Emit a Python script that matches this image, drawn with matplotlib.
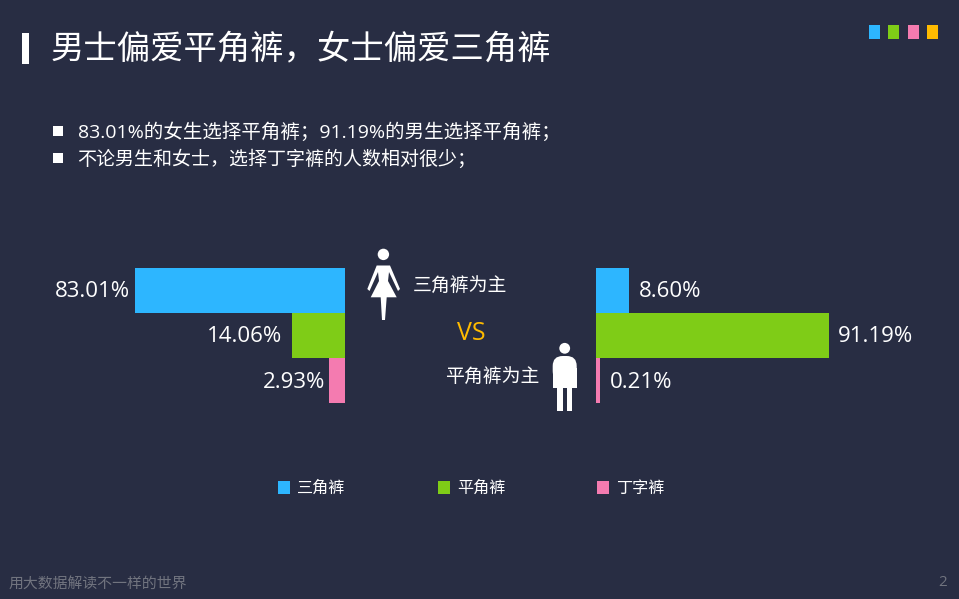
import matplotlib
matplotlib.use("Agg")
import matplotlib.pyplot as plt
import numpy as np
from matplotlib.patches import Rectangle, Polygon, Circle, FancyBboxPatch

plt.rcParams['font.family'] = ['Noto Sans CJK SC', 'DejaVu Sans']
NUM_FONT = ['Open Sans', 'Noto Sans CJK SC']

W, H = 959, 599
BG = '#282D43'
BLUE, GREEN, PINK, YELLOW = '#2DB6FF', '#7FCC17', '#F47BB0', '#FFBB00'

categories = ['三角裤', '平角裤', '丁字裤']
female = [83.01, 14.06, 2.93]
male = [8.60, 91.19, 0.21]
female_labels = ['83.01%', '14.06%', '2.93%']
male_labels = ['8.60%', '91.19%', '0.21%']
colors = [BLUE, GREEN, PINK]

# the reference's bars are not linear in the value: scale anchors (value -> drawn length)
scale_female = ([0, 2.93, 14.06, 83.01, 120], [0, 16, 53, 210, 300])
scale_male = ([0, 0.21, 8.60, 91.19, 130], [0, 4, 33, 233, 300])

title = '男士偏爱平角裤，女士偏爱三角裤'
bullets = ['83.01%的女生选择平角裤；91.19%的男生选择平角裤；',
           '不论男生和女士，选择丁字裤的人数相对很少；']
footer = '用大数据解读不一样的世界'

fig = plt.figure(figsize=(W / 100, H / 100), dpi=100, facecolor=BG)

ov = fig.add_axes([0, 0, 1, 1], zorder=3)
ov.set_xlim(0, W)
ov.set_ylim(H, 0)
ov.axis('off')


def bar_axes(x0, x1, y0, y1, anchors, reverse=False):
    ax = fig.add_axes([x0 / W, 1 - y1 / H, (x1 - x0) / W, (y1 - y0) / H], zorder=2)
    ax.patch.set_alpha(0)
    xs, ys = anchors
    ax.set_xscale('function', functions=(lambda v: np.interp(v, xs, ys),
                                         lambda p: np.interp(p, ys, xs)))
    ax.set_xlim((xs[-1], 0) if reverse else (0, xs[-1]))
    ax.set_ylim(2.5, -0.5)
    ax.axis('off')
    return ax


axL = bar_axes(45, 345, 268, 403, scale_female, reverse=True)
axL.barh(range(3), female, height=1.0, color=colors)

axR = bar_axes(596, 896, 268, 403, scale_male)
axR.barh(range(3), male, height=1.0, color=colors)

for i, (v, t, pad, dy) in enumerate(zip(female, female_labels, [5, 10, 4], [-1, -1, -1.8])):
    axL.annotate(t, (v, i), xytext=(-pad * 0.72, dy), textcoords='offset points',
                 ha='right', va='center', color='white', fontsize=16, family=NUM_FONT)
for i, (v, t, pad, dy) in enumerate(zip(male, male_labels, [10, 9, 10], [-1, -1, -1.8])):
    axR.annotate(t, (v, i), xytext=(pad * 0.72, dy), textcoords='offset points',
                 ha='left', va='center', color='white', fontsize=16, family=NUM_FONT)

# title
ov.add_patch(Rectangle((22, 33), 7, 31, color='white', lw=0))
ov.text(51, 49, title, color='white', fontsize=24, va='center', ha='left')

# top right squares
for x, c in zip([869, 888, 908, 927], [BLUE, GREEN, PINK, YELLOW]):
    ov.add_patch(Rectangle((x, 25), 11, 14, color=c, lw=0))

# bullets
for y, t, fs, tx in zip([131, 158], bullets, [14.0, 13.7], [78, 77.5]):
    ov.add_patch(Rectangle((52.5, y - 5.5), 10.5, 10, color='white', lw=0))
    ov.text(tx, y + 1, t, color='white', fontsize=fs, va='center', ha='left',
            family=NUM_FONT)

# woman icon
ov.add_patch(Circle((383.4, 254.4), 5.7, color='white', lw=0))
ov.add_patch(Polygon([(376.7, 265.5), (390, 265.5), (400, 289), (398, 291), (389, 272),
                      (388, 281), (396.7, 297.3), (386.7, 297.3), (385, 320), (382, 320),
                      (380.7, 297.3), (370.7, 297.3), (379, 281), (378, 272),
                      (369.5, 291), (367.3, 289)],
                     closed=True, color='white', lw=0))
# man icon
ov.add_patch(Circle((564.7, 348.3), 5.4, color='white', lw=0))
ov.add_patch(FancyBboxPatch((552.7, 356), 24, 25, boxstyle='round,pad=0,rounding_size=10',
                            color='white', lw=0))
ov.add_patch(Rectangle((552.7, 368), 24, 19.7, color='white', lw=0))
ov.add_patch(Rectangle((557.3, 387), 5.5, 24, color='white', lw=0))
ov.add_patch(Rectangle((566.7, 387), 5.6, 24, color='white', lw=0))

ov.text(413, 286, '三角裤为主', color='white', fontsize=13.6, va='center', ha='left')
ov.text(445, 377, '平角裤为主', color='white', fontsize=13.6, va='center', ha='left')
ov.text(471, 334, 'VS', color=YELLOW, fontsize=18, va='center', ha='center', family=NUM_FONT)

# legend
handles = [Rectangle((0, 0), 1, 1, color=c, lw=0) for c in colors]
ov.legend(handles, categories, ncol=3, loc='center left',
          bbox_to_anchor=(278 / W, 1 - 488.5 / H), frameon=False, labelcolor='white',
          prop={'size': 11.6}, borderpad=0, borderaxespad=0,
          handlelength=0.75, handleheight=0.85, handletextpad=0.45, columnspacing=5.7)

# footer
ov.text(9, 583.5, footer, color='#71747F', fontsize=10.7, va='center', ha='left')
ov.text(943, 583, '2', color='#71747F', fontsize=11, va='center', ha='center', family=NUM_FONT)

fig.savefig('out.png', dpi=100, facecolor=BG)
